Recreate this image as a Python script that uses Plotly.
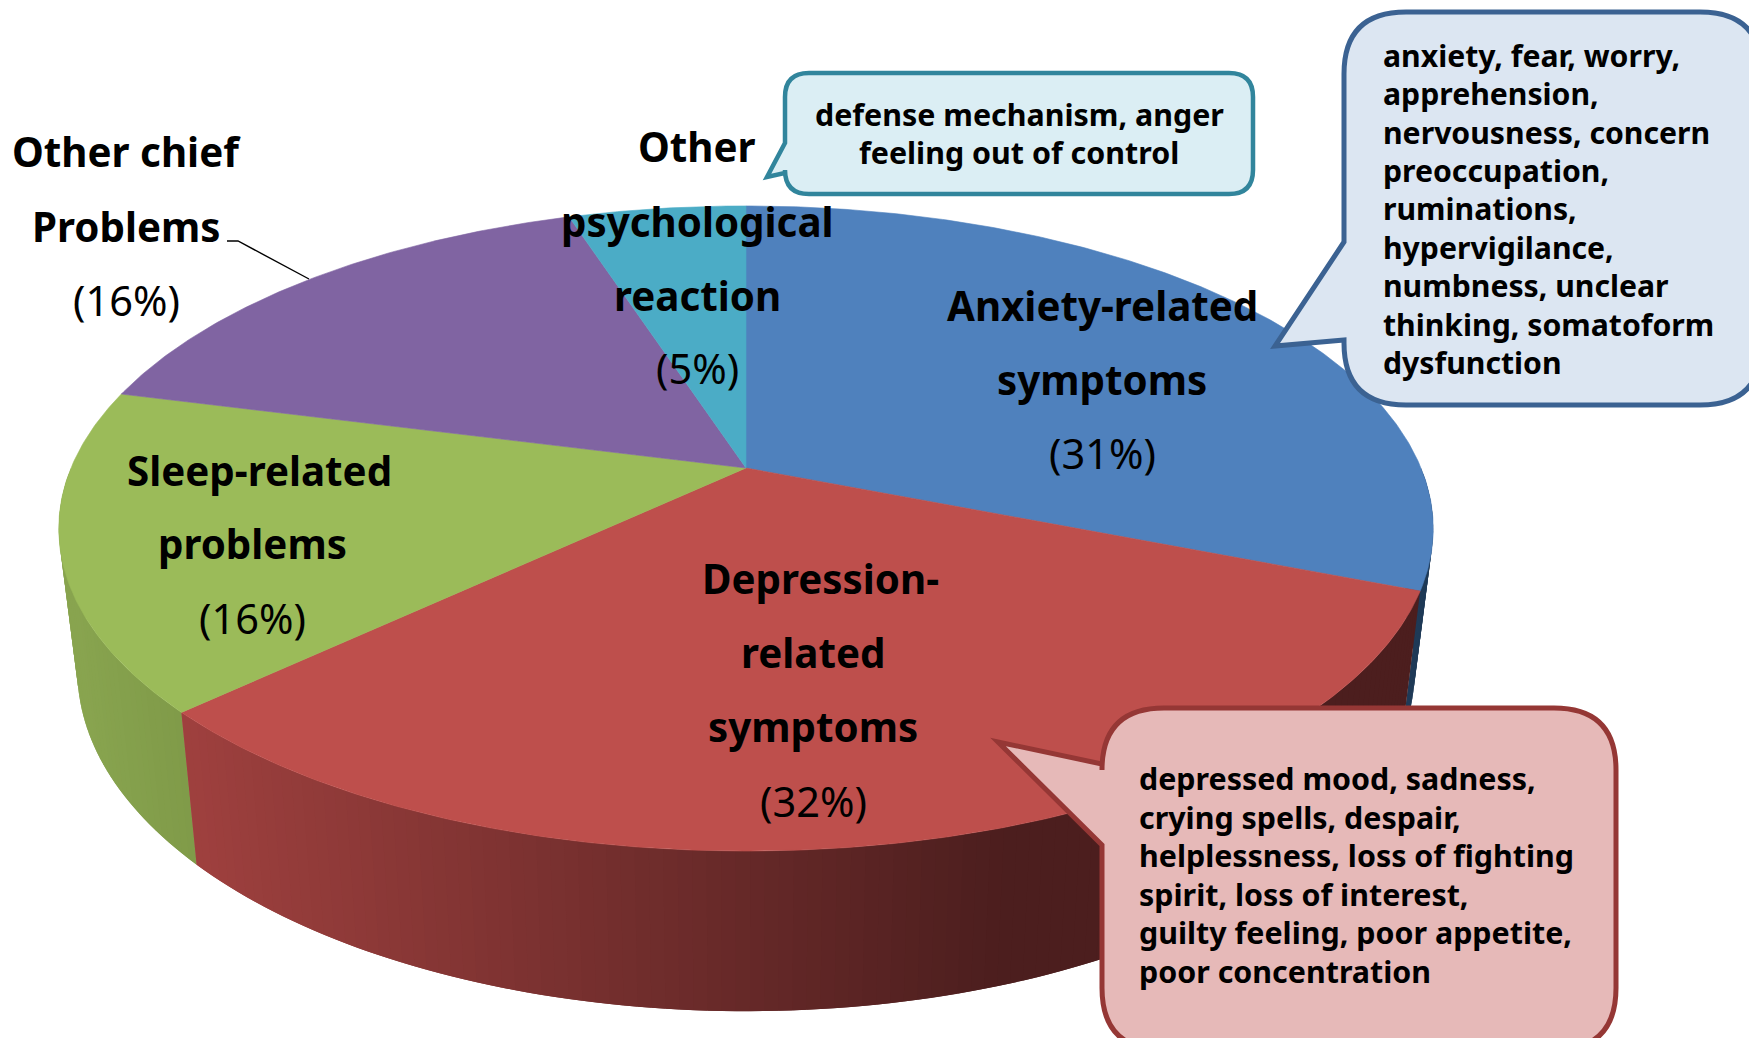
import math
import plotly.graph_objects as go

# ---- data (clockwise from 12 o'clock) ----
categories = ["Anxiety-related symptoms", "Depression-related symptoms", "Sleep-related problems",
              "Other chief Problems", "Other psychological reaction"]
values = [31, 32, 16, 16, 5]
top_colors = ["#4F81BD", "#BE4F4C", "#9BBB59", "#8064A2", "#4BACC6"]
# wall colour at the left / right end of each slice's wall
wall_left = ["#1F3A57", "#9E403E", "#88A44F", "#5E4A78", "#367F93"]
wall_right = ["#1F3A57", "#4C1E1E", "#7F9A48", "#5E4A78", "#367F93"]
wall_ramp = [(0, 1749), (197, 1000), (83, 197), (0, 1749), (0, 1749)]

FONT = "Noto Sans"
bold_labels = [
    ("Anxiety-related", 1102, 305), ("symptoms", 1102, 379),
    ("Depression-", 820, 578), ("related", 813, 652), ("symptoms", 813, 726),
    ("Sleep-related", 259, 470), ("problems", 252, 543),
    ("Other chief", 126, 151), ("Problems", 126, 226),
    ("Other", 697, 146), ("psychological", 697, 221), ("reaction", 697, 295),
]
pct_labels = [("(31%)", 1102, 453), ("(32%)", 813, 801), ("(16%)", 252, 618),
              ("(16%)", 126, 300), ("(5%)", 697, 368)]
blue_lines = ["anxiety, fear, worry,", "apprehension,", "nervousness, concern", "preoccupation,",
              "ruminations,", "hypervigilance,", "numbness, unclear", "thinking, somatoform", "dysfunction"]
blue_y = [55, 93, 132, 170, 208, 247, 285, 324, 362]
pink_lines = ["depressed mood, sadness,", "crying spells, despair,", "helplessness, loss of fighting",
              "spirit, loss of interest,", "guilty feeling, poor appetite,", "poor concentration"]
pink_y = [778, 817, 855, 894, 932, 971]
teal_lines = ["defense mechanism, anger", "feeling out of control"]
teal_y = [114, 152]

# ---- view of the disc ----
CX, CY = 746, 468
A, P, K = 675, 311.2, 0.1876
S, D = 0.973, 138.5
WALL_FROM, WALL_TO = math.radians(90), math.radians(270)


def rim(theta, lower=False):
    x, y = math.sin(theta), math.cos(theta)
    den = 1 + K * y
    sx, sy = A * x / den, -P * y / den
    if lower:
        return CX + S * sx, CY + S * sy + D / den
    return CX + sx, CY + sy


def lerp_hex(c0, c1, t):
    t = max(0, min(1, t))
    a = [int(c0[i:i + 2], 16) for i in (1, 3, 5)]
    b = [int(c1[i:i + 2], 16) for i in (1, 3, 5)]
    return "#%02x%02x%02x" % tuple(round(p + (q - p) * t) for p, q in zip(a, b))


total = sum(values)
edges = [0]
for v in values:
    edges.append(edges[-1] + v / total * 2 * math.pi)

fig = go.Figure()


def poly(xs, ys, col, width=0):
    fig.add_trace(go.Scatter(x=xs, y=ys, mode="lines", fill="toself", fillcolor=col,
                             line=dict(color=col, width=width), hoverinfo="skip", showlegend=False))


# walls: only the front half shows; each strip runs under the next one so no seam opens
for i in [0, 2, 1]:
    t0, t1 = max(edges[i], WALL_FROM), min(edges[i + 1], WALL_TO)
    n = max(2, int((t1 - t0) / math.radians(1.0)))
    step = (t1 - t0) / n
    order = range(n) if i != 2 else range(n - 1, -1, -1)
    for j in order:
        a = t0 + step * j
        b = t0 + step * (j + 1)
        if i == 2:
            a = max(t0, a - step)
        else:
            b = min(t1, b + step)
        p = [rim(a), rim(b), rim(b, True), rim(a, True)]
        mx = (rim(t0 + step * (j + .5))[0] + rim(t0 + step * (j + .5), True)[0]) / 2
        lo, hi = wall_ramp[i]
        poly([q[0] for q in p] + [p[0][0]], [q[1] for q in p] + [p[0][1]],
             lerp_hex(wall_left[i], wall_right[i], (mx - lo) / (hi - lo)))

# top faces
for i in range(len(values)):
    t0, t1 = edges[i], edges[i + 1]
    n = max(8, int((t1 - t0) / math.radians(0.5)))
    pts = [rim(t0 + (t1 - t0) * j / n) for j in range(n + 1)]
    poly([CX] + [q[0] for q in pts] + [CX], [CY] + [q[1] for q in pts] + [CY], top_colors[i], 0.6)

# leader line
fig.add_trace(go.Scatter(x=[227, 238, 309], y=[241, 241, 279], mode="lines",
                         line=dict(color="#000000", width=1.4), hoverinfo="skip", showlegend=False))


def callout(l, t, r, b, rad, tail, fill, stroke, w):
    (x1, y1), (x2, y2), (x3, y3) = tail
    path = (f"M {l+rad} {t} L {r-rad} {t} Q {r} {t} {r} {t+rad} L {r} {b-rad} Q {r} {b} {r-rad} {b} "
            f"L {l+rad} {b} Q {l} {b} {l} {b-rad} L {x3} {y3} L {x2} {y2} L {x1} {y1} "
            f"L {l} {t+rad} Q {l} {t} {l+rad} {t} Z")
    return dict(type="path", path=path, fillcolor=fill, line=dict(color=stroke, width=w),
                xref="x", yref="y", layer="above")


shapes = [
    callout(1344, 12, 1762, 405, 62, [(1344, 242), (1275, 346), (1344, 340)], "#DCE6F2", "#3B6292", 5),
    callout(1102, 708, 1616, 1050, 62, [(1102, 764), (998, 742), (1102, 845)], "#E6B9B8", "#953735", 5),
    callout(785, 73, 1253, 194, 24, [(785, 143), (767, 177), (785, 173)], "#DBEEF4", "#31859C", 4.5),
]

ann = []


def label(text, x, y, size, weight, anchor="center"):
    ann.append(dict(text=text, x=x, y=y, xref="x", yref="y", xanchor=anchor, yanchor="middle",
                    showarrow=False, font=dict(family=FONT, size=size, color="#000000", weight=weight)))


for t, x, y in bold_labels:
    label(t, x, y, 40.3, 700)
for t, x, y in pct_labels:
    label(t, x, y, 41.5, 400)
for t, y in zip(blue_lines, blue_y):
    label(t, 1381, y, 30.2, 700, "left")
for t, y in zip(pink_lines, pink_y):
    label(t, 1137, y, 30.4, 700, "left")
for t, y in zip(teal_lines, teal_y):
    label(t, 1019, y, 30.4, 700)

fig.update_layout(
    width=1749, height=1038, margin=dict(l=0, r=0, t=0, b=0),
    paper_bgcolor="#FFFFFF", plot_bgcolor="#FFFFFF", showlegend=False,
    xaxis=dict(range=[0, 1749], visible=False, fixedrange=True),
    yaxis=dict(range=[1038, 0], visible=False, fixedrange=True),
    shapes=shapes, annotations=ann,
)
fig.write_html("out.html", config={"displayModeBar": False},
               post_script="document.body.style.margin='0';document.body.style.overflow='hidden';")
